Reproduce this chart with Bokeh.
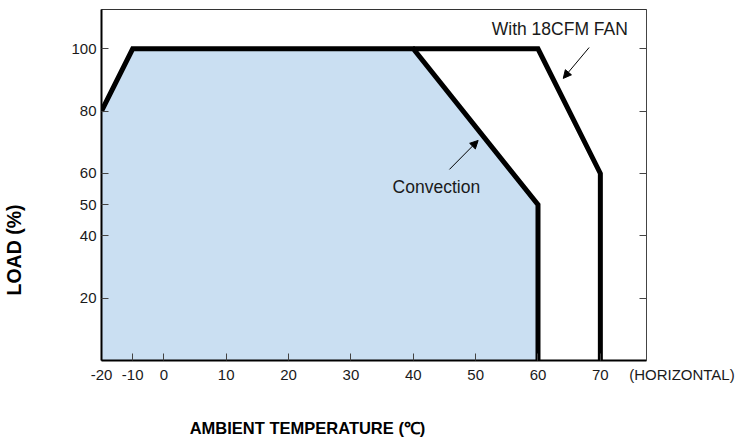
import numpy as np
from bokeh.plotting import figure
from bokeh.models import (Range1d, FixedTicker, LinearAxis, Label, Arrow,
                          NormalHead)
from bokeh.embed import file_html
from bokeh.resources import INLINE

# ---------------- data ----------------
x_ticks = [-20, -10, 0, 10, 20, 30, 40, 50, 60, 70]
y_ticks = [20, 40, 50, 60, 80, 100]
y_ticks_right = [20, 40, 60, 80, 100]

conv_temp = [-20, -10, 40, 60, 60]
conv_load = [80, 100, 100, 50, 0]

fan_temp = [40, 60, 70, 70]
fan_load = [100, 100, 60, 0]

# the original chart compresses the axis below 0 degC to half scale
axis_knots_t = [-20, 0, 80]
axis_knots_p = [-10, 0, 80]


def tpos(t):
    return np.interp(np.asarray(t, dtype=float), axis_knots_t, axis_knots_p)


FONT = "Liberation Sans"
TXT = "#1a1a1a"
NB = "\u00a0"
X_END = 77.4

p = figure(width=736, height=443, output_backend="svg", toolbar_location=None,
           x_range=Range1d(-10, X_END), y_range=Range1d(0, 112.6),
           min_border_left=101, min_border_right=90, min_border_top=9,
           min_border_bottom=83, background_fill_color="white")
p.grid.visible = False
p.outline_line_color = "#333333"
p.outline_line_width = 1

# fill under convection curve
patch_x = list(tpos(conv_temp)) + [float(tpos(-20))]
patch_y = conv_load + [0]
p.patch(patch_x, patch_y, fill_color="#CADFF2", line_color=None)

p.line(tpos(fan_temp), fan_load, line_color="black", line_width=5,
       line_join="miter")
p.line(tpos(conv_temp), conv_load, line_color="black", line_width=5,
       line_join="miter")

# axes
xa = p.xaxis[0]
xt = list(tpos(x_ticks)) + [X_END]
xa.ticker = FixedTicker(ticks=xt)
overrides = {float(pp): str(t) for pp, t in zip(tpos(x_ticks), x_ticks)}
overrides[X_END] = NB * 17 + "(HORIZONTAL)"
xa.major_label_overrides = overrides
ya = p.yaxis[0]
ya.ticker = FixedTicker(ticks=y_ticks)
for ax in (xa, ya):
    ax.major_tick_in = 7
    ax.major_tick_out = 0
    ax.minor_tick_line_color = None
    ax.major_tick_line_color = "#444444"
    ax.axis_line_color = "black"
    ax.axis_line_width = 2
    ax.major_label_text_font = FONT
    ax.major_label_text_font_size = "15px"
    ax.major_label_text_color = TXT
    ax.major_label_standoff = 5
    ax.axis_label_text_font = FONT
    ax.axis_label_text_font_style = "bold"
    ax.axis_label_text_color = "black"

xa.axis_label = "AMBIENT TEMPERATURE (℃)" + NB * 29
xa.axis_label_text_font_size = "16.5px"
xa.axis_label_standoff = 33
ya.axis_label = "LOAD (%)" + NB * 24
ya.axis_label_text_font_size = "19.5px"
ya.axis_label_standoff = 43

ra = LinearAxis(ticker=FixedTicker(ticks=y_ticks_right), major_label_text_color=None,
                major_tick_in=7, major_tick_out=0, minor_tick_line_color=None,
                major_tick_line_color="#444444", axis_line_color="#444444",
                axis_line_width=1)
p.add_layout(ra, "right")

# annotations
p.add_layout(Label(x=63.5, y=106.5, text="With 18CFM FAN", text_align="center",
                   text_baseline="middle", text_font=FONT, text_font_size="17.5px",
                   text_color=TXT))
p.add_layout(Label(x=43.7, y=55.5, text="Convection", text_align="center",
                   text_baseline="middle", text_font=FONT, text_font_size="17.5px",
                   text_color=TXT))
p.add_layout(Arrow(x_start=68.2, y_start=100.4, x_end=64.05, y_end=90.5,
                   line_width=1, line_color="black",
                   end=NormalHead(size=8, fill_color="black", line_color="black")))
p.add_layout(Arrow(x_start=45.8, y_start=61.3, x_end=50.4, y_end=70.6,
                   line_width=1, line_color="black",
                   end=NormalHead(size=8, fill_color="black", line_color="black")))

open("out.html", "w").write(file_html(p, INLINE))
